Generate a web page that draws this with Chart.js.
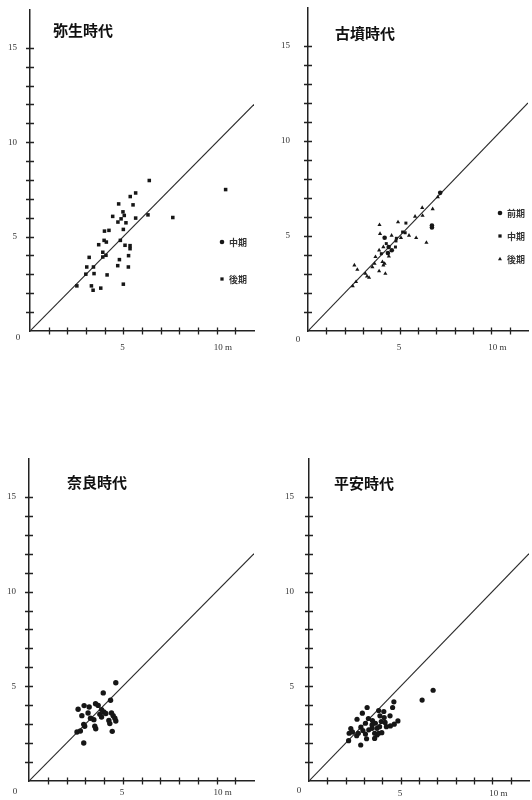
<!DOCTYPE html>
<html><head><meta charset="utf-8">
<script src="https://cdn.jsdelivr.net/npm/chart.js@4.4.1/dist/chart.umd.min.js"></script>
<style>
html,body{margin:0;padding:0;background:#fff;width:532px;height:800px;overflow:hidden;position:relative}
canvas{position:absolute}
</style></head><body>
<canvas id="c1" width="270" height="360" style="left:0;top:0"></canvas>
<canvas id="c2" width="254" height="360" style="left:278px;top:0"></canvas>
<canvas id="c3" width="270" height="360" style="left:0;top:440px"></canvas>
<canvas id="c4" width="254" height="360" style="left:279px;top:440px"></canvas>
<script>
// ---- titles / legends ----
const panelTitles = ['弥生時代', '古墳時代', '奈良時代', '平安時代'];
const yayoiLegend = ['中期', '後期'];
const kofunLegend = ['前期', '中期', '後期'];

// ---- tick labels ----
const yTickLabels = [5, 10, 15];
const xTickLabels = [5, 10];
const unitLabel = 'm';

// ---- data: [x (m), y (m)] ----
const yayoiPts = [
  [6.39,7.97],[10.48,7.49],[5.66,7.31],[5.37,7.12],[4.75,6.73],[5.52,6.68],[4.43,6.07],[4.98,6.31],
  [5.05,6.12],[4.88,5.94],[4.71,5.77],[5.14,5.73],[5.66,5.98],[6.32,6.15],[7.65,6.01],[5.00,5.38],
  [3.99,5.29],[4.23,5.33],[3.68,4.57],[3.97,4.80],[4.09,4.71],[4.84,4.80],[5.09,4.54],[5.36,4.52],
  [5.36,4.36],[3.90,4.17],[4.07,4.01],[3.90,3.92],[5.28,3.99],[4.79,3.78],[3.17,3.90],[3.04,3.39],
  [3.40,3.39],[4.70,3.46],[5.27,3.39],[2.99,3.01],[3.43,3.04],[4.13,2.97],[2.51,2.39],[3.29,2.39],
  [3.38,2.16],[3.79,2.27],[5.00,2.48]
];
const kofunEarly = [
  [7.21,7.27],[6.76,5.45],[6.76,5.55],[4.40,4.42],[4.57,4.25],[4.18,4.91],[4.36,4.10]
];
const kofunMiddle = [
  [5.34,5.68],[5.16,5.21],[5.30,5.17],[4.82,4.88],[4.27,4.60],[4.80,4.74],[4.00,4.07],[4.77,4.42]
];
const kofunLate = [
  [7.08,7.05],[6.80,6.42],[6.23,6.49],[6.25,6.07],[5.84,6.03],[6.46,4.65],[5.90,4.90],[5.51,5.03],
  [4.91,5.73],[5.07,4.91],[4.56,5.03],[3.90,5.59],[3.93,5.12],[4.11,4.42],[3.88,4.25],[4.41,3.93],
  [3.68,3.90],[4.06,3.64],[4.18,3.55],[4.11,3.46],[3.63,3.55],[3.51,3.37],[3.13,3.02],[3.22,2.88],
  [3.33,2.81],[3.88,3.15],[4.22,3.02],[2.53,3.46],[2.69,3.23],[2.62,2.59],[2.44,2.36]
];
const naraPts = [
  [4.63,5.19],[3.96,4.65],[4.35,4.26],[2.62,3.79],[2.94,3.98],[3.21,3.91],[3.55,4.08],[3.69,3.99],
  [2.82,3.45],[3.15,3.59],[3.46,3.24],[3.78,3.52],[3.99,3.64],[3.87,3.38],[4.10,3.56],[4.40,3.59],
  [4.49,3.45],[4.58,3.31],[4.63,3.17],[4.26,3.20],[4.31,3.03],[2.92,2.99],[2.97,2.89],[3.51,2.89],
  [3.56,2.76],[2.56,2.59],[2.74,2.64],[4.44,2.62],[2.92,2.01],[3.87,3.77],[3.28,3.31]
];
const heianPts = [
  [6.77,4.79],[6.17,4.27],[4.63,4.18],[4.56,3.88],[3.17,3.88],[2.91,3.58],[2.62,3.26],[3.80,3.72],
  [3.87,3.44],[3.24,3.30],[3.46,3.19],[3.62,3.05],[3.94,3.14],[4.15,3.09],[4.42,3.44],[4.10,3.35],
  [4.22,2.87],[4.44,2.91],[4.85,3.17],[4.65,3.00],[2.28,2.77],[2.37,2.59],[2.19,2.52],[2.16,2.13],
  [2.83,2.84],[2.94,2.66],[2.60,2.39],[2.69,2.52],[3.08,2.48],[3.14,2.23],[2.82,1.90],[3.26,2.70],
  [3.44,2.78],[3.58,2.52],[3.71,2.43],[3.58,2.25],[3.80,2.52],[3.97,2.55],[3.44,2.96],[3.08,3.05],
  [3.71,2.78],[3.85,2.87],[4.08,3.67]
];
const diagonal = [[0,0],[12,12]];

const toXY = arr => arr.map(p => ({x: p[0], y: p[1]}));
const INK = '#161616';

const decor = {
  id: 'decor',
  afterDraw(chart, args, o) {
    const {ctx, chartArea: a, scales: {x, y}} = chart;
    ctx.save();
    ctx.strokeStyle = '#222';
    ctx.lineWidth = 1.3;
    ctx.beginPath();
    y.ticks.forEach(t => {
      if (t.value > 0 && t.value <= 15) {
        const py = Math.round(y.getPixelForValue(t.value)) + 0.5;
        ctx.moveTo(a.left - 4, py); ctx.lineTo(a.left + 4, py);
      }
    });
    x.ticks.forEach(t => {
      if (t.value > 0 && t.value < 12) {
        const px = Math.round(x.getPixelForValue(t.value)) + 0.5;
        ctx.moveTo(px, a.bottom - 3.5); ctx.lineTo(px, a.bottom + 3.5);
      }
    });
    ctx.stroke();
    // origin label
    ctx.fillStyle = '#333';
    ctx.font = '9px "Liberation Serif"';
    ctx.textAlign = 'center';
    ctx.textBaseline = 'middle';
    ctx.fillText('0', x.getPixelForValue(0) + o.zero[0], y.getPixelForValue(0) + o.zero[1]);
    // title
    ctx.fillStyle = '#111';
    ctx.font = '700 15px "Noto Sans CJK JP"';
    ctx.textAlign = 'left';
    ctx.fillText(o.title, a.left + o.titlePos[0], a.top + o.titlePos[1]);
    // legend
    if (o.legend) {
      o.legend.forEach((lab, i) => {
        const mx = a.left + o.legendPos[0];
        const my = a.top + o.legendPos[1] + i * o.legendGap;
        ctx.fillStyle = INK;
        Chart.helpers.drawPoint(ctx, {pointStyle: o.legendStyles[i], radius: 2.3, rotation: 0, borderWidth: 0}, mx, my);
        ctx.font = '700 9px "Noto Sans CJK JP"';
        ctx.fillStyle = '#333';
        ctx.textAlign = 'left';
        ctx.fillText(lab, mx + 7, my + 0.5);
      });
    }
    ctx.restore();
  }
};

function makeChart(id, pointSets, cfg) {
  const datasets = pointSets.map(s => ({
    data: toXY(s.data),
    pointStyle: s.style,
    pointRadius: s.r,
    backgroundColor: INK,
    borderColor: INK,
    borderWidth: 0
  }));
  datasets.push({
    data: toXY(diagonal),
    showLine: true,
    pointRadius: 0,
    borderColor: '#2a2a2a',
    borderWidth: 1.1
  });
  return new Chart(document.getElementById(id), {
    type: 'scatter',
    data: {datasets},
    options: {
      responsive: false,
      animation: false,
      events: [],
      layout: {padding: {top: cfg.top, right: cfg.right, left: 0, bottom: 0}},
      plugins: {
        legend: {display: false},
        tooltip: {enabled: false},
        decor: cfg.decor
      },
      scales: {
        x: {
          type: 'linear', min: 0, max: 12,
          afterFit(s) { s.height = cfg.xh; s.paddingLeft = 0; s.paddingRight = 0; },
          grid: {display: false, drawTicks: false},
          border: {display: true, color: '#222', width: 1.5},
          ticks: {
            stepSize: 1, autoSkip: false, maxRotation: 0, align: 'start', labelOffset: -3,
            padding: cfg.xpad, color: '#333',
            font: {family: 'Liberation Serif', size: 9},
            callback: v => xTickLabels.includes(v) ? (v === 10 ? v + ' ' + unitLabel : String(v)) : ''
          }
        },
        y: {
          type: 'linear', min: 0, max: 17,
          afterFit(s) { s.width = cfg.yw; s.paddingTop = 0; s.paddingBottom = 0; },
          grid: {display: false, drawTicks: false},
          border: {display: true, color: '#222', width: 1.5},
          ticks: {
            stepSize: 1, autoSkip: false,
            padding: cfg.ypad, color: '#333',
            font: {family: 'Liberation Serif', size: 9},
            callback: v => yTickLabels.includes(v) ? String(v) : ''
          }
        }
      }
    },
    plugins: [decor]
  });
}

makeChart('c1', [{data: yayoiPts, style: 'rect', r: 2.5}], {
  top: 10, right: 16, yw: 30, xh: 29, xpad: 11, ypad: 13,
  decor: {title: panelTitles[0], titlePos: [23, 20], zero: [-12, 7],
          legend: yayoiLegend, legendStyles: ['circle', 'rect'], legendPos: [192, 232], legendGap: 37}
});
makeChart('c2', [
  {data: kofunEarly, style: 'circle', r: 2.3},
  {data: kofunMiddle, style: 'rect', r: 2.1},
  {data: kofunLate, style: 'triangle', r: 2.4}
], {
  top: 8, right: 0, yw: 30, xh: 29, xpad: 11, ypad: 18,
  decor: {title: panelTitles[1], titlePos: [27, 25], zero: [-10, 9],
          legend: kofunLegend, legendStyles: ['circle', 'rect', 'triangle'], legendPos: [192, 205], legendGap: 23}
});
makeChart('c3', [{data: naraPts, style: 'circle', r: 2.7}], {
  top: 19, right: 16, yw: 29, xh: 19, xpad: 6, ypad: 13,
  decor: {title: panelTitles[2], titlePos: [38, 23], zero: [-14, 11]}
});
makeChart('c4', [{data: heianPts, style: 'circle', r: 2.6}], {
  top: 19, right: 0, yw: 30, xh: 19, xpad: 7, ypad: 15,
  decor: {title: panelTitles[3], titlePos: [25, 24], zero: [-10, 10]}
});
</script>
</body></html>
